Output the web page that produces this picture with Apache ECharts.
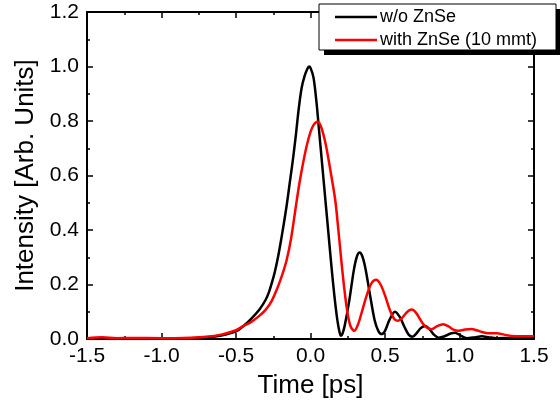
<!DOCTYPE html>
<html>
<head>
<meta charset="utf-8">
<script src="https://cdn.jsdelivr.net/npm/echarts@6/dist/echarts.min.js"></script>
<style>
  html, body { margin: 0; padding: 0; background: #fff; }
  #chart { width: 560px; height: 408px; }
</style>
</head>
<body>
<div id="chart"></div>
<script>
// pulse intensity vs time
var noZnSe = [
  [-1.5, 0.0], [-1.2, 0.0], [-1.0, 0.001], [-0.8, 0.003], [-0.7, 0.006], [-0.6, 0.013],
  [-0.5, 0.028], [-0.45, 0.048], [-0.4, 0.073], [-0.34, 0.11], [-0.3, 0.145], [-0.28, 0.17],
  [-0.26, 0.205], [-0.24, 0.245], [-0.22, 0.295], [-0.2, 0.355], [-0.18, 0.42], [-0.16, 0.49],
  [-0.14, 0.57], [-0.12, 0.65], [-0.1, 0.74], [-0.08, 0.84], [-0.06, 0.92], [-0.04, 0.965],
  [-0.02, 0.993], [-0.01, 1.0], [0.0, 0.995],
  [0.02, 0.96], [0.04, 0.87], [0.06, 0.75], [0.08, 0.63], [0.1, 0.51], [0.12, 0.39],
  [0.14, 0.27], [0.16, 0.16], [0.18, 0.07], [0.195, 0.025], [0.205, 0.012], [0.215, 0.02],
  [0.23, 0.05], [0.26, 0.14], [0.29, 0.25], [0.31, 0.3], [0.33, 0.317], [0.35, 0.3],
  [0.37, 0.255], [0.4, 0.16], [0.43, 0.07], [0.455, 0.03], [0.478, 0.018], [0.5, 0.03],
  [0.53, 0.07], [0.567, 0.1], [0.6, 0.08], [0.63, 0.045], [0.66, 0.015], [0.685, 0.008],
  [0.71, 0.02], [0.74, 0.04], [0.77, 0.048], [0.8, 0.035], [0.83, 0.015], [0.86, 0.005],
  [0.9, 0.01], [0.94, 0.02], [0.97, 0.023], [1.0, 0.015], [1.05, 0.003], [1.1, 0.006],
  [1.15, 0.01], [1.2, 0.006], [1.25, 0.003], [1.35, 0.004], [1.5, 0.003]
];
var withZnSe = [
  [-1.5, 0.003], [-1.4, 0.006], [-1.3, 0.003], [-1.2, 0.004], [-1.0, 0.003], [-0.8, 0.005],
  [-0.7, 0.008], [-0.6, 0.016], [-0.5, 0.032], [-0.46, 0.045], [-0.4, 0.062], [-0.35, 0.082],
  [-0.3, 0.108], [-0.26, 0.14], [-0.22, 0.19], [-0.19, 0.235], [-0.16, 0.29], [-0.13, 0.37],
  [-0.1, 0.48], [-0.075, 0.57], [-0.05, 0.645], [-0.025, 0.71],
  [0.0, 0.76], [0.02, 0.785], [0.046, 0.797], [0.07, 0.78], [0.1, 0.72], [0.13, 0.63],
  [0.166, 0.51], [0.187, 0.4], [0.21, 0.27], [0.23, 0.17], [0.25, 0.09], [0.27, 0.045],
  [0.294, 0.03], [0.32, 0.055], [0.35, 0.11], [0.38, 0.165], [0.41, 0.205], [0.44, 0.217],
  [0.47, 0.2], [0.5, 0.16], [0.53, 0.11], [0.56, 0.075], [0.583, 0.067], [0.61, 0.075],
  [0.65, 0.1], [0.68, 0.108], [0.71, 0.095], [0.75, 0.06], [0.78, 0.042], [0.813, 0.036],
  [0.85, 0.047], [0.89, 0.054], [0.93, 0.045], [0.96, 0.034], [0.99, 0.03], [1.03, 0.034],
  [1.08, 0.037], [1.12, 0.031], [1.17, 0.023], [1.21, 0.021], [1.25, 0.021], [1.3, 0.016],
  [1.35, 0.011], [1.42, 0.01], [1.5, 0.01]
];
var seriesNames = ['w/o ZnSe', 'with ZnSe (10 mmt)'];
var xTicks = [-1.5, 1.5, 0.5];   // min, max, step
var yTicks = [0, 1.2, 0.2];

var chart = echarts.init(document.getElementById('chart'));
var font = 'Liberation Sans, Arial, sans-serif';

function fmt(v) { return v.toFixed(1); }

function axisBase(pos, ticks) {
  return {
    type: 'value', position: pos,
    min: ticks[0], max: ticks[1], interval: ticks[2],
    axisLine: { show: true, onZero: false, lineStyle: { color: '#000', width: 2 } },
    axisTick: { show: true, inside: true, length: 6, lineStyle: { color: '#000', width: 1.5 } },
    minorTick: { show: true, splitNumber: 2, length: 3, lineStyle: { color: '#000', width: 1.5 } },
    splitLine: { show: false },
    axisLabel: { show: false }
  };
}

var xBottom = axisBase('bottom', xTicks);
xBottom.axisLabel = { show: true, formatter: fmt, fontSize: 21, color: '#000', fontFamily: font, margin: 7 };
xBottom.name = 'Time [ps]';
xBottom.nameLocation = 'middle';
xBottom.nameGap = 34;
xBottom.nameTextStyle = { fontSize: 26, color: '#000', fontFamily: font };
var xTop = axisBase('top', xTicks);

var yLeft = axisBase('left', yTicks);
yLeft.axisLabel = { show: true, formatter: fmt, fontSize: 21, color: '#000', fontFamily: font, margin: 8 };
yLeft.name = 'Intensity [Arb. Units]';
yLeft.nameLocation = 'middle';
yLeft.nameGap = 47;
yLeft.nameTextStyle = { fontSize: 26, color: '#000', fontFamily: font };
var yRight = axisBase('right', yTicks);

var option = {
  animation: false,
  backgroundColor: '#fff',
  grid: { left: 87, right: 26, top: 12, bottom: 69 },
  xAxis: [xBottom, xTop],
  yAxis: [yLeft, yRight],
  legend: {
    orient: 'vertical', left: 335, top: 7, padding: 0,
    icon: 'rect', itemWidth: 42, itemHeight: 2.5, itemGap: 3, z: 20,
    textStyle: { fontSize: 18, lineHeight: 20, color: '#000', fontFamily: font, padding: [0, 0, 0, -2] },
    data: seriesNames
  },
  graphic: [
    { type: 'rect', z: 10, shape: { x: 324, y: 9, width: 236, height: 46 }, style: { fill: '#000' } },
    { type: 'rect', z: 11, shape: { x: 319, y: 4, width: 237, height: 46 }, style: { fill: '#fff', stroke: '#000', lineWidth: 1 } }
  ],
  series: [
    { name: seriesNames[0], type: 'line', data: noZnSe, smooth: 0.3, symbol: 'none', z: 3,
      lineStyle: { color: '#000', width: 2.5 }, itemStyle: { color: '#000' } },
    { name: seriesNames[1], type: 'line', data: withZnSe, smooth: 0.3, symbol: 'none', z: 4,
      lineStyle: { color: '#ff0000', width: 2.5 }, itemStyle: { color: '#ff0000' } }
  ]
};
chart.setOption(option);
</script>
</body>
</html>
